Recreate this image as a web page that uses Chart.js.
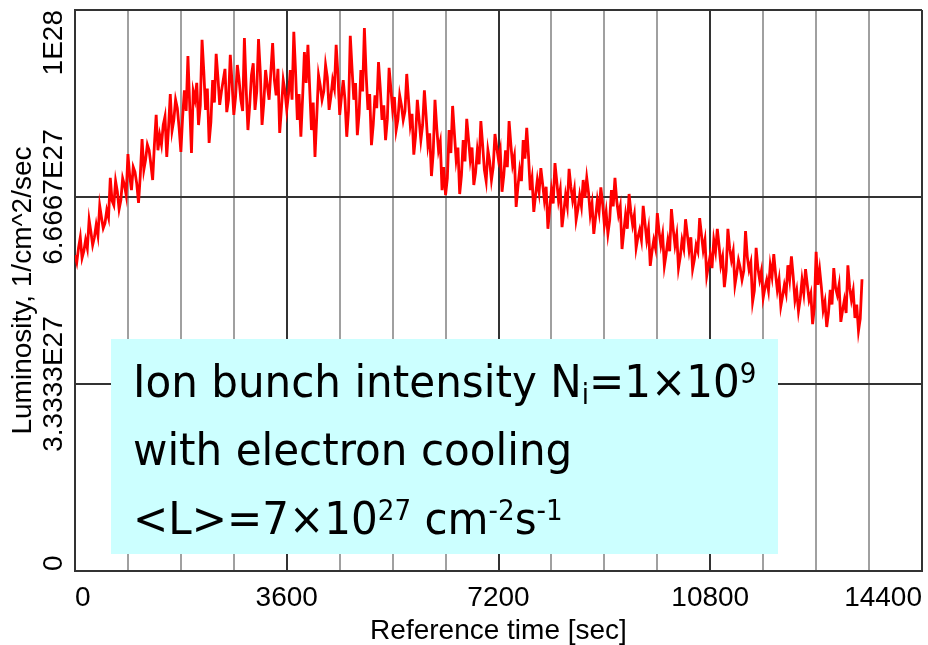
<!DOCTYPE html>
<html>
<head>
<meta charset="utf-8">
<script src="https://cdn.jsdelivr.net/npm/chart.js@4.4.0/dist/chart.umd.min.js"></script>
<style>
  html, body { margin: 0; padding: 0; background: #fff; }
</style>
</head>
<body>
<canvas id="lumiChart" width="928" height="645"></canvas>
<script>
// readings every 30 s, values in units of 1E27 1/cm^2/sec
const SAMPLE_STEP = 30;
const luminosityE27 = [
  5.63, 5.50, 5.76, 5.95, 5.58, 5.70, 5.90, 5.75, 6.26, 6.05,
  5.81, 5.95, 6.17, 5.98, 6.51, 6.30, 6.11, 6.20, 6.43, 6.30,
  7.01, 6.60, 6.52, 6.95, 6.76, 6.45, 6.61, 7.00, 6.88, 6.70,
  7.43, 7.05, 6.79, 7.20, 7.11, 6.90, 6.56, 7.05, 7.70, 7.15,
  7.33, 7.60, 7.50, 7.25, 6.97, 7.60, 8.13, 7.50, 7.77, 7.60,
  7.95, 8.10, 7.38, 7.90, 8.50, 7.85, 8.04, 8.40, 8.25, 7.90,
  7.47, 8.10, 8.57, 8.20, 9.18, 8.30, 7.45, 8.55, 8.40, 8.70,
  7.95, 8.30, 9.47, 8.90, 8.22, 8.60, 7.63, 8.00, 8.75, 8.35,
  9.22, 8.80, 8.31, 8.55, 8.75, 8.95, 8.18, 8.40, 9.20, 8.70,
  8.13, 8.45, 9.02, 8.75, 8.40, 8.20, 9.50, 8.60, 7.86, 8.30,
  8.84, 9.05, 8.22, 8.55, 9.48, 8.90, 7.95, 8.35, 8.93, 8.65,
  8.40, 8.90, 9.41, 8.75, 8.48, 8.95, 7.81, 8.25, 8.75, 8.55,
  8.22, 8.50, 8.93, 8.40, 9.61, 8.90, 8.04, 8.50, 7.74, 8.45,
  9.25, 8.70, 9.38, 8.60, 7.86, 8.35, 7.38, 8.10, 8.84, 8.65,
  8.40, 8.55, 9.02, 8.80, 8.22, 8.45, 8.75, 8.60, 9.38, 8.85,
  8.13, 8.45, 8.75, 8.40, 7.74, 8.20, 9.54, 8.95, 8.40, 8.70,
  7.77, 8.15, 8.93, 8.55, 9.68, 8.85, 8.22, 8.50, 7.59, 7.95,
  8.48, 8.25, 9.07, 8.60, 8.04, 8.30, 7.68, 8.05, 8.97, 8.60,
  8.22, 8.45, 7.86, 8.05, 8.48, 8.30, 8.04, 8.20, 8.86, 8.40,
  7.95, 8.15, 7.42, 7.75, 8.40, 8.05, 7.68, 7.95, 8.57, 8.10,
  7.59, 7.80, 7.04, 7.45, 8.40, 7.90, 7.50, 7.65, 6.79, 7.20,
  6.70, 7.00, 7.86, 7.45, 8.29, 7.80, 7.33, 7.55, 6.72, 7.05,
  7.68, 7.30, 8.06, 7.70, 7.33, 7.55, 6.88, 7.10, 7.50, 7.25,
  8.02, 7.60, 7.15, 6.95, 7.50, 7.30, 6.97, 7.20, 7.79, 7.55,
  7.33, 7.50, 6.76, 7.05, 7.50, 7.20, 8.02, 7.60, 7.24, 7.40,
  6.49, 6.85, 7.15, 6.95, 7.68, 7.35, 7.90, 7.40, 6.79, 7.00,
  6.40, 6.70, 6.97, 6.75, 7.18, 6.90, 6.61, 6.85, 6.10, 6.45,
  6.79, 6.55, 7.27, 6.95, 6.61, 6.80, 6.13, 6.40, 6.70, 6.50,
  7.17, 6.85, 6.61, 6.80, 6.26, 6.45, 6.70, 6.50, 6.97, 6.65,
  7.01, 6.75, 6.35, 6.55, 6.01, 6.30, 6.61, 6.40, 6.84, 6.55,
  6.17, 6.40, 6.01, 6.25, 6.79, 6.50, 7.01, 6.60, 6.35, 6.50,
  5.74, 6.05, 6.35, 6.10, 6.72, 6.40, 6.17, 6.35, 5.76, 5.95,
  6.08, 5.90, 6.51, 6.20, 5.90, 6.10, 5.44, 5.70, 5.90, 5.75,
  6.38, 6.05, 5.81, 6.00, 5.44, 5.65, 5.90, 5.70, 6.45, 6.10,
  5.81, 6.00, 5.40, 5.60, 5.90, 5.75, 6.27, 6.00, 5.72, 5.95,
  5.38, 5.55, 5.81, 5.70, 6.29, 6.00, 5.72, 5.90, 5.26, 5.45,
  5.63, 5.40, 5.90, 5.70, 6.10, 5.80, 5.45, 5.60, 5.06, 5.35,
  6.10, 5.75, 5.54, 5.70, 5.10, 5.30, 5.54, 5.40, 5.19, 5.35,
  6.06, 5.60, 5.37, 5.50, 4.80, 5.00, 5.76, 5.40, 5.19, 5.35,
  4.87, 5.05, 5.19, 5.00, 5.45, 5.25, 5.65, 5.30, 5.01, 5.20,
  4.72, 4.90, 5.10, 4.95, 5.45, 5.20, 5.61, 5.25, 4.83, 5.00,
  4.63, 4.85, 5.19, 4.95, 5.38, 5.10, 4.83, 4.95, 4.40, 4.70,
  5.69, 5.10, 5.37, 5.05, 4.65, 4.80, 4.35, 4.60, 5.01, 4.75,
  5.40, 5.05, 4.92, 5.10, 4.44, 4.65, 4.83, 4.60, 5.45, 5.05,
  4.83, 5.00, 4.51, 4.75, 4.28, 4.50, 5.20
];

const xMax = 14400;
const xGridStep = 900;
const xLabelStep = 3600;
const yTickValues = [0, 3.3333e27, 6.6667e27, 1e28];
const yTickLabels = ['0', '3.3333E27', '6.6667E27', '1E28'];

const xTitle = 'Reference time [sec]';
const yTitle = 'Luminosity, 1/cm^2/sec';

// note box text: [text, level] with level 1 = superscript, -1 = subscript
const boxLines = [
  [['Ion bunch intensity N', 0], ['i', -1], ['=1\u00d710', 0], ['9', 1]],
  [['with electron cooling', 0]],
  [['<L>=7\u00d710', 0], ['27', 1], [' cm', 0], ['-2', 1], ['s', 0], ['-1', 1]]
];

const points = luminosityE27.map((v, i) => ({ x: i * SAMPLE_STEP, y: v * 1e27 }));

const axisFont = '"Liberation Sans", Arial, sans-serif';

// rotated y labels + axis title
const yLabelsPlugin = {
  id: 'yLabels',
  afterDraw(chart) {
    const { ctx, chartArea } = chart;
    const y = chart.scales.y;
    ctx.save();
    ctx.fillStyle = '#000';
    ctx.font = '28px ' + axisFont;
    ctx.textBaseline = 'alphabetic';
    yTickValues.forEach((v, i) => {
      const py = y.getPixelForValue(v);
      ctx.save();
      ctx.translate(62, py);
      ctx.rotate(-Math.PI / 2);
      ctx.textAlign = i === 0 ? 'left' : (i === yTickValues.length - 1 ? 'right' : 'center');
      ctx.fillText(yTickLabels[i], 0, 0);
      ctx.restore();
    });
    ctx.translate(31, (chartArea.top + chartArea.bottom) / 2);
    ctx.rotate(-Math.PI / 2);
    ctx.textAlign = 'center';
    ctx.fillText(yTitle, 0, 0);
    ctx.restore();
  }
};

// the cyan note box
const noteBoxPlugin = {
  id: 'noteBox',
  afterDatasetsDraw(chart) {
    const ctx = chart.ctx;
    ctx.save();
    ctx.fillStyle = '#ccffff';
    ctx.fillRect(111, 339, 667, 215);
    ctx.fillStyle = '#000';
    ctx.textBaseline = 'alphabetic';
    ctx.textAlign = 'left';
    const baselines = [397, 465, 534];
    boxLines.forEach((segs, li) => {
      ctx.save();
      ctx.translate(133, baselines[li]);
      ctx.scale(0.935, 1);
      let x = 0;
      segs.forEach(([txt, lvl]) => {
        ctx.font = (lvl === 0 ? '45px' : '28px') + ' "DejaVu Sans", Verdana, sans-serif';
        const dy = lvl === 1 ? -14 : (lvl === -1 ? 7 : 0);
        ctx.fillText(txt, x, dy);
        x += ctx.measureText(txt).width;
      });
      ctx.restore();
    });
    ctx.restore();
  }
};

new Chart(document.getElementById('lumiChart').getContext('2d'), {
  type: 'line',
  data: {
    datasets: [{
      data: points,
      borderColor: '#ff0000',
      borderWidth: 2.8,
      pointRadius: 0,
      tension: 0,
      fill: false
    }]
  },
  options: {
    responsive: false,
    animation: false,
    layout: { padding: { left: 75, right: 6, top: 10, bottom: 0 } },
    plugins: { legend: { display: false }, tooltip: { enabled: false } },
    scales: {
      x: {
        type: 'linear',
        min: 0,
        max: xMax,
        afterFit: scale => { scale.height = 74; },
        ticks: {
          stepSize: xGridStep,
          autoSkip: false,
          maxRotation: 0,
          align: 'inner',
          padding: 0,
          color: '#000',
          font: { family: axisFont, size: 28, lineHeight: 1.0 },
          callback: v => (v % xLabelStep === 0 ? String(v) : '')
        },
        grid: {
          drawTicks: true,
          tickLength: 13,
          tickColor: 'rgba(0,0,0,0)',
          lineWidth: 2,
          color: ctx => (ctx.tick && ctx.tick.value % xLabelStep === 0 ? '#333' : '#a0a0a0')
        },
        border: { color: '#333', width: 2 },
        title: {
          display: true,
          text: xTitle,
          color: '#000',
          font: { family: axisFont, size: 28, lineHeight: 1.0 },
          padding: 0
        }
      },
      y: {
        min: 0,
        max: 1e28,
        afterFit: scale => { scale.width = 0; },
        afterBuildTicks: scale => { scale.ticks = yTickValues.map(v => ({ value: v })); },
        ticks: { display: false },
        grid: { drawTicks: false, lineWidth: 2, color: '#333' },
        border: { color: '#333', width: 2 }
      }
    }
  },
  plugins: [yLabelsPlugin, noteBoxPlugin]
});
</script>
</body>
</html>
